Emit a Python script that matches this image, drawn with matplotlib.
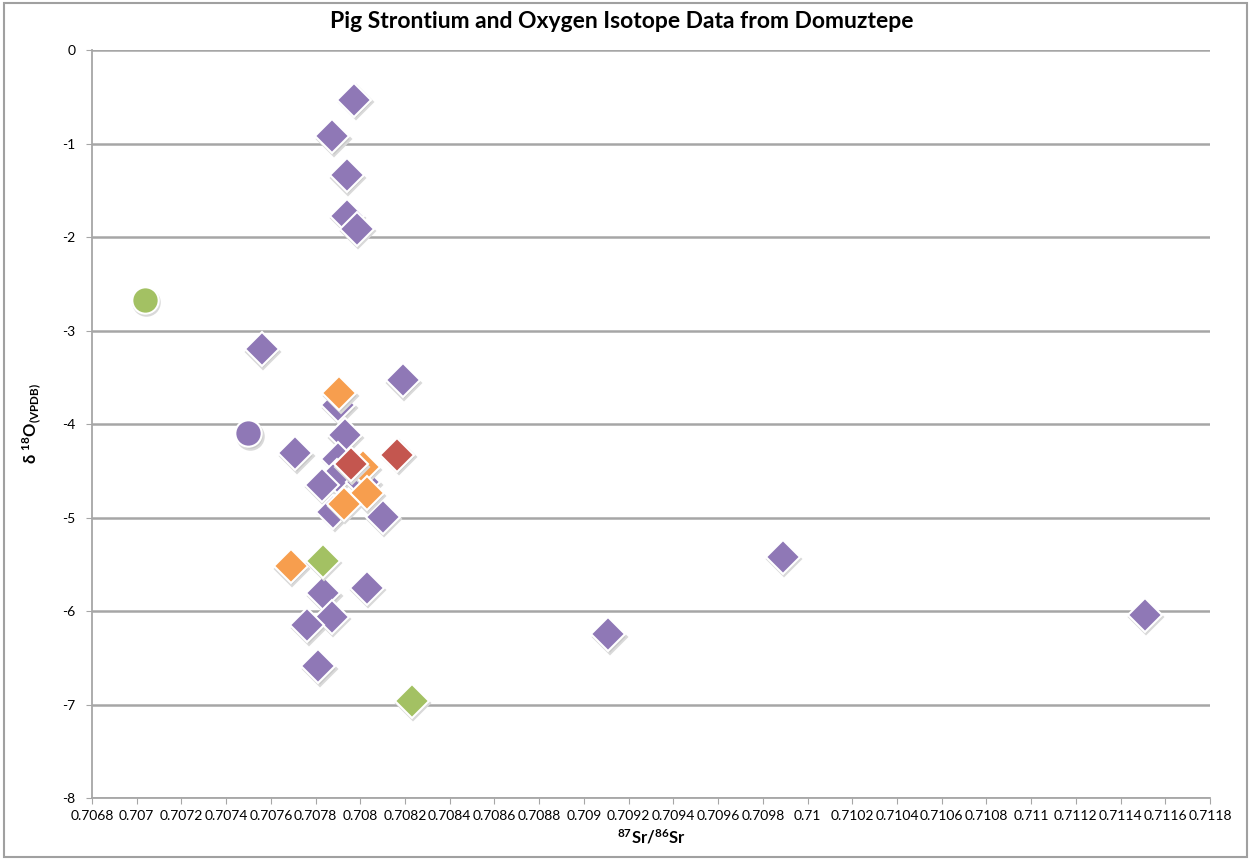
import matplotlib
matplotlib.use("Agg")
import matplotlib.pyplot as plt
import matplotlib.transforms as mtransforms
from matplotlib.patches import Rectangle
from matplotlib.ticker import MultipleLocator, FuncFormatter

plt.rcParams['font.family'] = ['Lato', 'DejaVu Sans']
plt.rcParams['mathtext.fontset'] = 'custom'
plt.rcParams['mathtext.rm'] = 'Lato:bold'
plt.rcParams['mathtext.default'] = 'regular'

# purple diamonds
purple_sr = [0.707972, 0.707875, 0.707939, 0.707940, 0.707984, 0.707559, 0.708189,
             0.707901, 0.707931, 0.707708, 0.707901, 0.707894, 0.707827, 0.708013,
             0.707879, 0.708100, 0.707834, 0.708028, 0.707872, 0.707763, 0.707812,
             0.709108, 0.709890, 0.711509]
purple_o = [-0.53, -0.92, -1.34, -1.77, -1.91, -3.20, -3.53,
            -3.80, -4.12, -4.31, -4.37, -4.56, -4.65, -4.62,
            -4.94, -4.99, -5.81, -5.75, -6.06, -6.15, -6.59,
            -6.25, -5.42, -6.04]
# orange diamonds
orange_sr = [0.707906, 0.708011, 0.708028, 0.707927, 0.707689]
orange_o = [-3.67, -4.46, -4.74, -4.85, -5.52]
# red diamonds
red_sr = [0.708165, 0.707957]
red_o = [-4.33, -4.43]
# green diamonds
green_sr = [0.707832, 0.708230]
green_o = [-5.46, -6.96]
# circles
green_circle_sr = [0.707037]
green_circle_o = [-2.67]
purple_circle_sr = [0.707499]
purple_circle_o = [-4.10]

PURPLE = '#8F78B6'
ORANGE = '#F79E4E'
RED = '#C4564F'
GREEN = '#A3C163'

fig = plt.figure(figsize=(12.51, 8.59), dpi=100)
ax = fig.add_axes([92 / 1251, 1 - 798 / 859, (1210 - 92) / 1251, (798 - 50.2) / 859])

shadow = mtransforms.offset_copy(ax.transData, fig=fig, x=1.5, y=-2.5, units='dots')

series = [
    (purple_sr, purple_o, PURPLE, 'D', 17),
    (orange_sr, orange_o, ORANGE, 'D', 17),
    (red_sr, red_o, RED, 'D', 17),
    (green_sr, green_o, GREEN, 'D', 17),
    (green_circle_sr, green_circle_o, GREEN, 'o', 19),
    (purple_circle_sr, purple_circle_o, PURPLE, 'o', 19),
]

z = 3
for xs, ys, col, mk, ms in series:
    ax.plot(xs, ys, linestyle='none', marker=mk, markersize=ms, color='#C9C9C9',
            markeredgecolor='#D9D9D9', markeredgewidth=1.5, transform=shadow, zorder=z)
    ax.plot(xs, ys, linestyle='none', marker=mk, markersize=ms, color=col,
            markeredgecolor='white', markeredgewidth=1.5, zorder=z + 1)
    z += 2

ax.set_xlim(0.7068, 0.7118)
ax.set_ylim(-8, 0)
ax.xaxis.set_major_locator(MultipleLocator(0.0002))
ax.yaxis.set_major_locator(MultipleLocator(1))
ax.xaxis.set_major_formatter(FuncFormatter(lambda v, p: f"{round(v, 4):g}"))
ax.yaxis.set_major_formatter(FuncFormatter(lambda v, p: f"{int(round(v))}"))

ax.grid(axis='y', color='#A6A6A6', linewidth=1.8)
ax.set_axisbelow(True)
for s in ['top', 'right']:
    ax.spines[s].set_visible(False)
for s in ['left', 'bottom']:
    ax.spines[s].set_color('#A6A6A6')
    ax.spines[s].set_linewidth(1.3)
ax.tick_params(axis='both', direction='out', length=4, color='#A6A6A6', labelsize=10,
               labelcolor='black')
ax.tick_params(axis='x', pad=5)
ax.tick_params(axis='y', pad=8)

fig.text(622 / 1251, 1 - 22 / 859, 'Pig Strontium and Oxygen Isotope Data from Domuztepe',
         fontsize=16.5, fontweight='bold', ha='center', va='center')
ax.set_xlabel(r'$^{87}$Sr/$^{86}$Sr', fontsize=12, fontweight='bold', labelpad=4)
ax.set_ylabel(r'δ $^{18}$O$_{(VPDB)}$', fontsize=12, fontweight='bold', labelpad=14)

fig.patches.append(Rectangle((4 / 1251, 2 / 859), 1243 / 1251, 854 / 859, transform=fig.transFigure,
                             fill=False, edgecolor='#A0A0A0', linewidth=1.5))

fig.savefig('out.png', dpi=100)
